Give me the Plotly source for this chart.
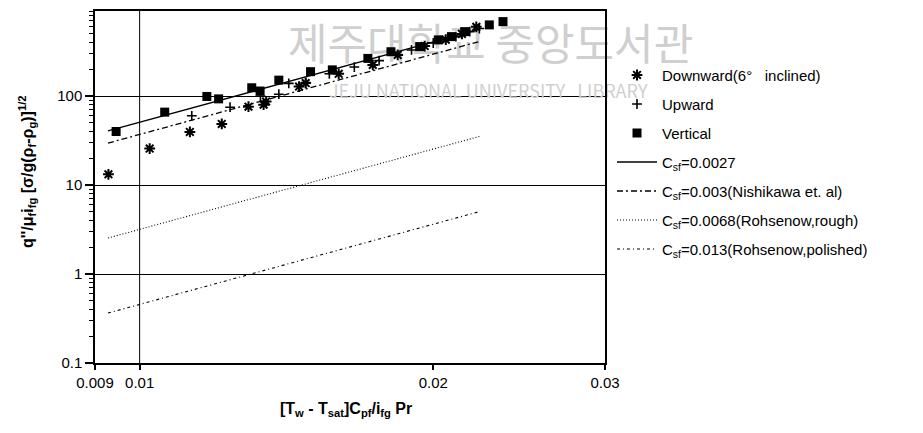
import math
import plotly.graph_objects as go

# ---- data ----
x_down = [0.00929, 0.01024, 0.01126, 0.01214, 0.01293, 0.01340, 0.01348, 0.01457, 0.01480,
          0.01600, 0.01734, 0.01839, 0.01960, 0.02060, 0.02140, 0.02214]
y_down = [13.2, 25.7, 39.5, 48.6, 76, 80, 87, 128, 140, 178, 224, 290, 365, 430, 500, 600]

x_up = [0.01131, 0.01238, 0.01330, 0.01389, 0.01422, 0.01480, 0.01565, 0.01660, 0.01760,
        0.01900, 0.02000, 0.02110, 0.02180, 0.02230]
y_up = [60, 75, 100, 105, 139, 142, 178, 212, 250, 330, 395, 465, 530, 575]

x_vert = [0.00946, 0.01061, 0.01172, 0.01205, 0.01303, 0.01329, 0.01389, 0.01497, 0.01576,
          0.01714, 0.01810, 0.01937, 0.02024, 0.02088, 0.02154, 0.02283, 0.02358]
y_vert = [40, 66, 99, 93, 124, 114, 151, 188, 197, 265, 315, 360, 428, 466, 530, 631, 687]

x_line = [0.00928, 0.02233]
y_csf0027 = [40.6, 565]
y_csf003 = [29.6, 412]
y_csf0068 = [2.54, 35.3]
y_csf013 = [0.364, 5.05]

x_ticks = [0.009, 0.01, 0.02, 0.03]
x_ticklabels = ["0.009", "0.01", "0.02", "0.03"]
y_ticks = [0.1, 1, 10, 100]
y_ticklabels = ["0.1", "1", "10", "100"]
y_minor = [v * m for v in [0.1, 1, 10, 100] for m in range(2, 10)]

FONT = "Liberation Sans, Arial, sans-serif"

fig = go.Figure()

# library watermark (drawn first so data sits on top)
fig.add_trace(go.Scatter(
    x=[0.02290, 0.02277], y=[335, 106], mode="text",
    text=["제주대학교 중앙도서관", "JEJU NATIONAL UNIVERSITY   LIBRARY"],
    textfont=dict(family="Noto Sans CJK KR", size=[43, 18], color="#cfcfcf"),
    cliponaxis=False, showlegend=False, hoverinfo="skip"))

fig.add_trace(go.Scatter(
    x=x_down, y=y_down, mode="markers", name="Downward(6°   inclined)",
    legendgroup="a",
    marker=dict(symbol="asterisk-open", size=9, color="black",
                line=dict(color="black", width=2))))
fig.add_trace(go.Scatter(
    x=x_up, y=y_up, mode="markers", name="Upward", legendgroup="b",
    marker=dict(symbol="cross-thin-open", size=7, color="black",
                line=dict(color="black", width=1.6))))
fig.add_trace(go.Scatter(
    x=x_vert, y=y_vert, mode="markers", name="Vertical", legendgroup="c",
    marker=dict(symbol="square", size=9, color="black")))

fig.add_trace(go.Scatter(
    x=x_line, y=y_csf0027, mode="lines", legendgroup="d",
    name="C<sub>sf</sub>=0.0027",
    line=dict(color="black", width=1.4)))
fig.add_trace(go.Scatter(
    x=x_line, y=y_csf003, mode="lines", legendgroup="e",
    name="C<sub>sf</sub>=0.003(Nishikawa et. al)",
    line=dict(color="black", width=1.3, dash="6px,3px,2px,3px")))
fig.add_trace(go.Scatter(
    x=x_line, y=y_csf0068, mode="lines", legendgroup="f",
    name="C<sub>sf</sub>=0.0068(Rohsenow,rough)",
    line=dict(color="black", width=1.1, dash="1px,2px")))
fig.add_trace(go.Scatter(
    x=x_line, y=y_csf013, mode="lines", legendgroup="g",
    name="C<sub>sf</sub>=0.013(Rohsenow,polished)",
    line=dict(color="black", width=1.1, dash="3px,3px,1px,3px")))

fig.add_vline(x=0.01, line=dict(color="black", width=1))

fig.update_xaxes(
    type="log", range=[math.log10(0.009), math.log10(0.03)],
    tickvals=x_ticks, ticktext=x_ticklabels,
    ticks="outside", ticklen=5, tickwidth=1.5, tickcolor="black",
    showgrid=False, zeroline=False,
    showline=True, linecolor="black", linewidth=1.5, mirror=True,
    tickfont=dict(family=FONT, size=15, color="black"),
)
fig.update_yaxes(
    type="log", range=[-1, math.log10(904)],
    tickvals=y_ticks, ticktext=y_ticklabels,
    ticks="outside", ticklen=8, tickwidth=1.5, tickcolor="black",
    minor=dict(tickvals=y_minor, ticks="outside", ticklen=4, tickwidth=1,
               tickcolor="black", showgrid=False),
    showgrid=True, gridcolor="black", gridwidth=1,
    zeroline=False,
    showline=True, linecolor="black", linewidth=1.5, mirror=True,
    tickfont=dict(family=FONT, size=15, color="black"),
)

fig.add_annotation(
    xref="paper", yref="paper", x=(346 - 95) / 510, y=-(410 - 363) / 354,
    text="<b>[T<sub>w</sub> - T<sub>sat</sub>]C<sub>pf</sub>/i<sub>fg</sub> Pr</b>",
    showarrow=False, font=dict(family=FONT, size=16, color="black"),
    xanchor="center", yanchor="middle")
fig.add_annotation(
    xref="paper", yref="paper", x=-(95 - 27) / 510, y=1 - (171 - 9) / 354,
    text="<b>q''/μ<sub>f</sub>i<sub>fg</sub> [σ/g(ρ<sub>f</sub>-ρ<sub>g</sub>)]<sup>1/2</sup></b>",
    showarrow=False, textangle=-90, font=dict(family=FONT, size=16, color="black"),
    xanchor="center", yanchor="middle")

fig.update_layout(
    width=923, height=433,
    margin=dict(l=95, r=318, t=9, b=70),
    paper_bgcolor="white", plot_bgcolor="white",
    font=dict(family=FONT, color="black"),
    legend=dict(
        x=(612 - 95) / 510, y=1 - (57 - 9) / 354, xanchor="left", yanchor="top",
        font=dict(family=FONT, size=15, color="black"),
        tracegroupgap=6.5, itemwidth=40, bgcolor="rgba(0,0,0,0)",
        traceorder="grouped",
    ),
)

fig.write_html("out.html")
